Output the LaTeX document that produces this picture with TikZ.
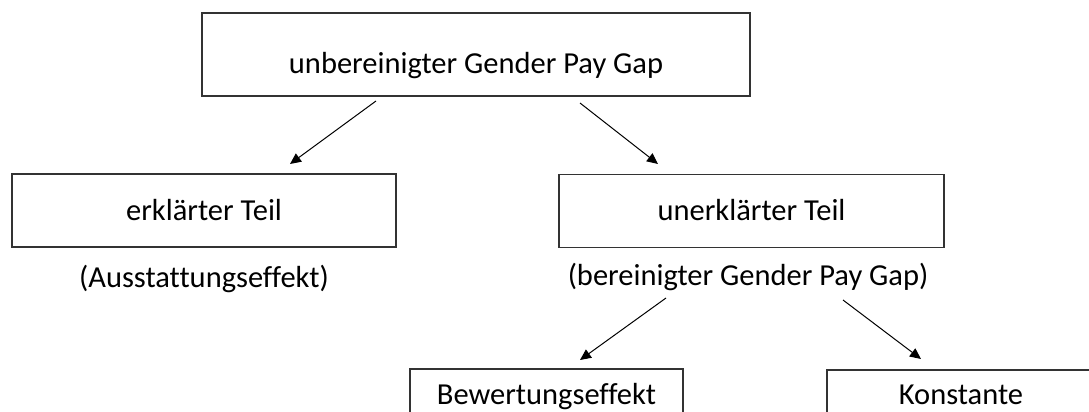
\documentclass[tikz,border=0pt]{standalone}
\usepackage{fontspec}
\setmainfont{Carlito}[Ligatures=CommonOff]
\usetikzlibrary{arrows.meta}
\begin{document}
\begin{tikzpicture}[x=1pt,y=-1pt,
  box/.style={draw=black!80,line width=1.4pt,inner sep=0pt},
  lbl/.style={font=\fontsize{30.5}{36}\selectfont,anchor=base,inner sep=0pt},
  conn/.style={draw=black,line width=1pt,-{Triangle[length=11pt,width=10pt]}}]
\useasboundingbox (0,0) rectangle (1089,412);
% boxes
\node[box,minimum width=548pt,minimum height=83pt] (top) at (476,54.5) {};
\node[box,minimum width=384pt,minimum height=73pt] (left) at (204,210.5) {};
\node[box,minimum width=385pt,minimum height=73pt] (right) at (751.5,211) {};
\node[box,minimum width=273pt,minimum height=90pt] (bew) at (546.5,414) {};
\node[box,minimum width=273pt,minimum height=90pt] (kon) at (963.5,415) {};
% texts
\node[lbl] (ttop) at (476,74) {unbereinigter Gender Pay Gap};
\node[lbl] (tleft) at (204,220) {erklärter Teil};
\node[lbl] (tright) at (751.5,220) {unerklärter Teil};
\node[lbl] (sleft) at (204,287) {(Ausstattungseffekt)};
\node[lbl] (sright) at (748,285) {(bereinigter Gender Pay Gap)};
\node[lbl] (tbew) at (546.5,404) {Bewertungseffekt};
\node[lbl] (tkon) at (961,404) {Konstante};
% connector end points
\coordinate (a1s) at (376,101); \coordinate (a1e) at (290,164);
\coordinate (a2s) at (580,103); \coordinate (a2e) at (658,164);
\coordinate (a3s) at (666,298); \coordinate (a3e) at (580,360);
\coordinate (a4s) at (843,300); \coordinate (a4e) at (921,359);
\draw[conn] (a1s) -- (a1e);
\draw[conn] (a2s) -- (a2e);
\draw[conn] (a3s) -- (a3e);
\draw[conn] (a4s) -- (a4e);
\end{tikzpicture}
\end{document}
